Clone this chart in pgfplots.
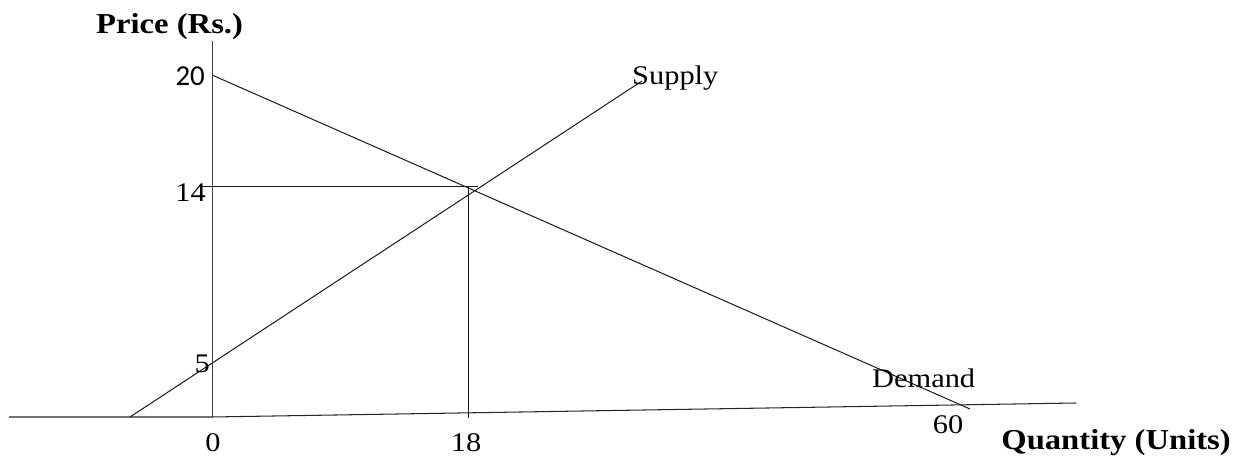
\documentclass[border=0pt]{standalone}
\usepackage{fontspec}
\setmainfont{Liberation Serif}[FakeStretch=1.13]
\newfontfamily\carlito{Carlito}
\usepackage{pgfplots}
\pgfplotsset{compat=1.18}
\begin{document}
\begin{tikzpicture}
\useasboundingbox (0,0) rectangle (1235bp,456bp);
\begin{axis}[
  at={(0,0)}, anchor=origin,
  scale only axis, width=1235bp, height=456bp,
  xmin=0, xmax=1235, ymin=0, ymax=456,
  hide axis, clip=false,
]
% axes
\addplot[black!75, line width=1pt, mark=none] coordinates {(212,415) (212,39)};
\addplot[black!85, line width=1.05pt, mark=none] coordinates {(9,39) (212,39) (1076,53)};
% demand
\addplot[black!90, line width=1pt, mark=none] coordinates {(212,381) (970,47)};
% supply
\addplot[black!90, line width=1pt, mark=none] coordinates {(130,39) (642,375)};
% equilibrium guides
\addplot[black!90, line width=1pt, mark=none] coordinates {(202,269.5) (478,269.5)};
\addplot[black!90, line width=1pt, mark=none] coordinates {(468,269) (468,38)};
% labels
\node[anchor=base west, inner sep=0pt, font=\fontsize{29}{34}\selectfont\bfseries] at (axis cs:96,422) {Price (Rs.)};
\node[anchor=base east, inner sep=0pt, font=\fontsize{29}{34}\selectfont\carlito] at (axis cs:205,370) {20};
\node[anchor=base east, inner sep=0pt, font=\fontsize{27}{32}\selectfont] at (axis cs:206,254.5) {14};
\node[anchor=base east, inner sep=0pt, font=\fontsize{27}{32}\selectfont] at (axis cs:210,83) {5};
\node[anchor=base, inner sep=0pt, font=\fontsize{27}{32}\selectfont] at (axis cs:213,5) {0};
\node[anchor=base, inner sep=0pt, font=\fontsize{27}{32}\selectfont] at (axis cs:466,5) {18};
\node[anchor=base, inner sep=0pt, font=\fontsize{27}{32}\selectfont] at (axis cs:948,23) {60};
\node[anchor=base east, inner sep=0pt, font=\fontsize{29}{34}\selectfont\bfseries] at (axis cs:1231,7) {Quantity (Units)};
\node[anchor=base west, inner sep=0pt, font=\fontsize{27}{32}\selectfont] at (axis cs:872,68) {Demand};
\node[anchor=base west, inner sep=0pt, font=\fontsize{27}{32}\selectfont] at (axis cs:632,371) {Supply};
\end{axis}
\end{tikzpicture}
\end{document}
